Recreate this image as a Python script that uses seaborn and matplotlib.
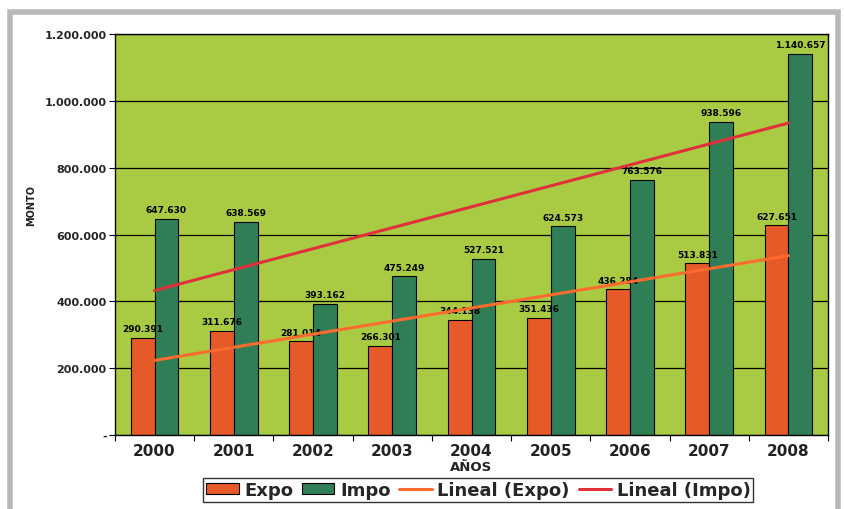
import matplotlib
matplotlib.use("Agg")
import matplotlib.pyplot as plt
import seaborn as sns
import numpy as np
import pandas as pd
from matplotlib.patches import Rectangle, Patch
from matplotlib.lines import Line2D
from matplotlib.ticker import FuncFormatter, MultipleLocator, FixedLocator

years = ["2000", "2001", "2002", "2003", "2004", "2005", "2006", "2007", "2008"]
expo = [290391, 311676, 281014, 266301, 344138, 351436, 436284, 513831, 627651]
impo = [647630, 638569, 393162, 475249, 527521, 624573, 763576, 938596, 1140657]
series_names = ["Expo", "Impo"]

df = pd.DataFrame({
    "Año": years * 2,
    "Serie": [series_names[0]] * len(years) + [series_names[1]] * len(years),
    "Monto": expo + impo,
})

sns.set_theme(style="white")
plt.rcParams['font.family'] = ['DejaVu Sans']
plt.rcParams['font.weight'] = 'bold'

fig = plt.figure(figsize=(8.45, 5.1), dpi=100)
ax = fig.add_axes([0.136, 0.145, 0.844, 0.786])

c_expo = "#E65A2A"
c_impo = "#2F7E56"
bg = "#A9CB43"

sns.barplot(data=df, x="Año", y="Monto", hue="Serie", palette=[c_expo, c_impo],
            width=0.6, edgecolor="black", linewidth=0.8, ax=ax, legend=False,
            saturation=1)
ax.set_facecolor(bg)
ax.set_xlim(-0.5, len(years) - 0.5)
ax.set_ylim(0, 1200000)

# gridlines
ax.yaxis.set_major_locator(MultipleLocator(200000))
ax.grid(axis="y", color="black", linewidth=0.9)
ax.set_axisbelow(True)
for s in ax.spines.values():
    s.set_color("black")
    s.set_linewidth(1.0)

def fmt(v, pos):
    if v == 0:
        return "-"
    return f"{int(v):,}".replace(",", ".")
ax.yaxis.set_major_formatter(FuncFormatter(fmt))

# value labels
for cont in ax.containers:
    for bar in cont:
        h = bar.get_height()
        ax.text(bar.get_x() + bar.get_width() / 2, h + 14000, f"{int(h):,}".replace(",", "."),
                ha="center", va="bottom", fontsize=6.5, fontweight="bold", color="black")

# linear trend lines
xs = np.arange(len(years))
for vals, col in [(expo, "#FF6A2E"), (impo, "#E0303A")]:
    m, b = np.polyfit(xs, vals, 1)
    ax.plot(xs, m * xs + b, color=col, linewidth=2.2, zorder=5)

ax.tick_params(axis="y", labelsize=8, length=4, width=0.8, color="black", left=True, pad=2)
for t in ax.get_yticklabels():
    t.set_fontweight("bold")
ax.tick_params(axis="x", labelsize=11, length=0, pad=6, labelcolor="#222222")
for t in ax.get_xticklabels():
    t.set_fontweight("bold")
ax.xaxis.set_minor_locator(FixedLocator(np.arange(-0.5, len(years), 1)))
ax.tick_params(axis="x", which="minor", length=4, width=0.8, color="black", bottom=True)

ax.set_xlabel("AÑOS", fontsize=9.5, fontweight="bold", labelpad=1, color="#222222")
ax.set_ylabel("MONTO", fontsize=7, fontweight="bold", color="#222222")
ax.yaxis.set_label_coords(-0.11, 0.575)

# legend
handles = [
    Patch(facecolor=c_expo, edgecolor="black", linewidth=0.8),
    Patch(facecolor=c_impo, edgecolor="black", linewidth=0.8),
    Line2D([0], [0], color="#FF6A2E", linewidth=2.2),
    Line2D([0], [0], color="#E0303A", linewidth=2.2),
]
labels = ["Expo", "Impo", "Lineal (Expo)", "Lineal (Impo)"]
leg = fig.legend(handles, labels, loc="center", bbox_to_anchor=(0.566, 0.037), ncol=4,
                 frameon=True, fancybox=False, edgecolor="black",
                 handlelength=1.8, handleheight=0.6, handletextpad=0.3, columnspacing=0.5,
                 borderpad=0.15, borderaxespad=0, prop={"weight": "bold", "size": 13})
leg.get_frame().set_linewidth(1.0)

# outer gray frame
fig.patches.append(Rectangle((0.012, -0.01), 0.98, 0.985, transform=fig.transFigure,
                             fill=False, edgecolor="#B8B8B8", linewidth=4, zorder=0))

fig.savefig("out.png", dpi=100)
